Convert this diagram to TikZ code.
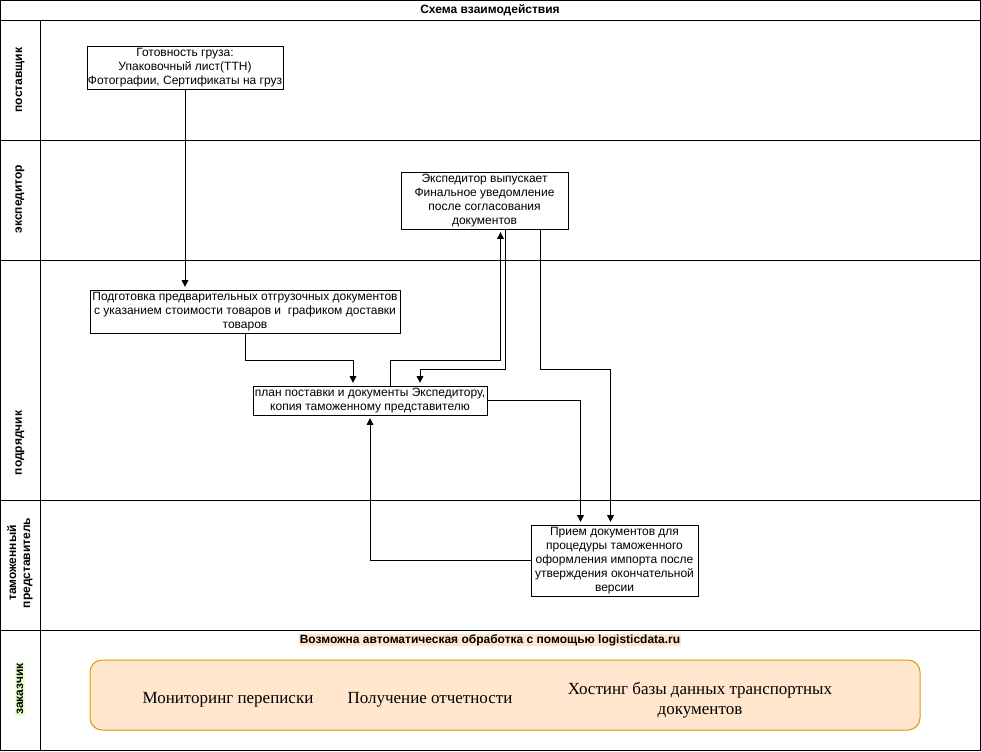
\documentclass[tikz,border=0pt]{standalone}
\usepackage{fontspec}
\setmainfont{Liberation Sans}
\newfontfamily\serifcyr{Liberation Serif}
\usetikzlibrary{calc,arrows.meta}
\definecolor{peach}{RGB}{255,230,204}
\definecolor{peachline}{RGB}{215,155,0}
\definecolor{lightlime}{RGB}{230,255,204}
\tikzset{
 box/.style={draw,fill=white,align=center,inner sep=0pt,font=\fontsize{9}{10.5}\selectfont},
 lane/.style={rotate=90,align=center,font=\bfseries\fontsize{9}{10.5}\selectfont},
 arr/.style={-{Triangle[length=5pt,width=5pt]},shorten >=2pt},
 service/.style={align=center,font=\serifcyr\fontsize{12.75}{15}\selectfont}
}
\begin{document}
\begin{tikzpicture}[x=0.75pt,y=-0.75pt,line width=0.75pt]
 \useasboundingbox (0,0) rectangle (981,751);
 \draw (0.5,0.5) rectangle (980.5,750.5);
 \foreach \y in {20,140,260,500,630} \draw (0.5,\y) -- (980.5,\y);
 \draw (40,20) -- (40,750.5);
 \node[font=\bfseries\fontsize{9}{10.5}\selectfont] (title) at (490,10) {Схема взаимодействия};
 \node[lane] (lsup) at (20,80) {поставщик};
 \node[lane] (lexp) at (20,199) {экспедитор};
 \node[lane] (lcon) at (20,443) {подрядчик};
 \node[lane] (lcus) at (20,563) {таможенный\\представитель};
 \node[lane,fill=lightlime,inner sep=1pt] (lcli) at (20,689) {заказчик};
 \node[box,minimum width=147pt,minimum height=32.25pt] (ready) at (185,67.5)
  {Готовность груза:\\Упаковочный лист(ТТН)\\Фотографии, Сертификаты на груз};
 \node[box,minimum width=125.25pt,minimum height=42.75pt] (notice) at (484.5,200.5)
  {Экспедитор выпускает\\Финальное уведомление\\после согласования\\документов};
 \node[box,minimum width=232.5pt,minimum height=32.25pt] (prep) at (245,311.5)
  {Подготовка предварительных отгрузочных документов\\с указанием стоимости товаров и \ графиком доставки\\товаров};
 \node[box,minimum width=175.5pt,minimum height=21.75pt] (plan) at (370,400.5)
  {план поставки и документы Экспедитору,\\копия таможенному представителю};
 \node[box,minimum width=125.25pt,minimum height=53.25pt] (accept) at (614.5,560.5)
  {Прием документов для\\процедуры таможенного\\оформления импорта после\\утверждения окончательной\\версии};
 \draw[arr] (ready.south) -- (ready.south |- prep.north);
 \draw[arr] (prep.south) |- ($(plan.north)+(-17,-25)$) -- ($(plan.north)+(-17,0)$);
 \draw[arr] ($(plan.north)+(20,0)$) |- ($(notice.south)+(16,131)$) -- ($(notice.south)+(16,0)$);
 \draw[arr] ($(notice.south)+(21,0)$) |- ($(plan.north)+(50,-16)$) -- ($(plan.north)+(50,0)$);
 \draw[arr] ($(notice.south)+(56,0)$) |- ($(accept.north)+(-4,-155)$) -- ($(accept.north)+(-4,0)$);
 \draw[arr] (plan.east) -| ($(accept.north)+(-34,0)$);
 \draw[arr] (accept.west) -| (plan.south);
 \node[fill=peach,inner sep=0.5pt,font=\bfseries\fontsize{9}{10.5}\selectfont] (auto) at (490,640)
  {Возможна автоматическая обработка с помощью logisticdata.ru};
 \draw[draw=peachline,fill=peach,rounded corners=9pt] (90,660) rectangle (920,730);
 \node[service] (mon) at (228,700) {Мониторинг переписки};
 \node[service] (rep) at (430,700) {Получение отчетности};
 \node[service] (host) at (700,700) {Хостинг базы данных транспортных\\документов};
\end{tikzpicture}
\end{document}
